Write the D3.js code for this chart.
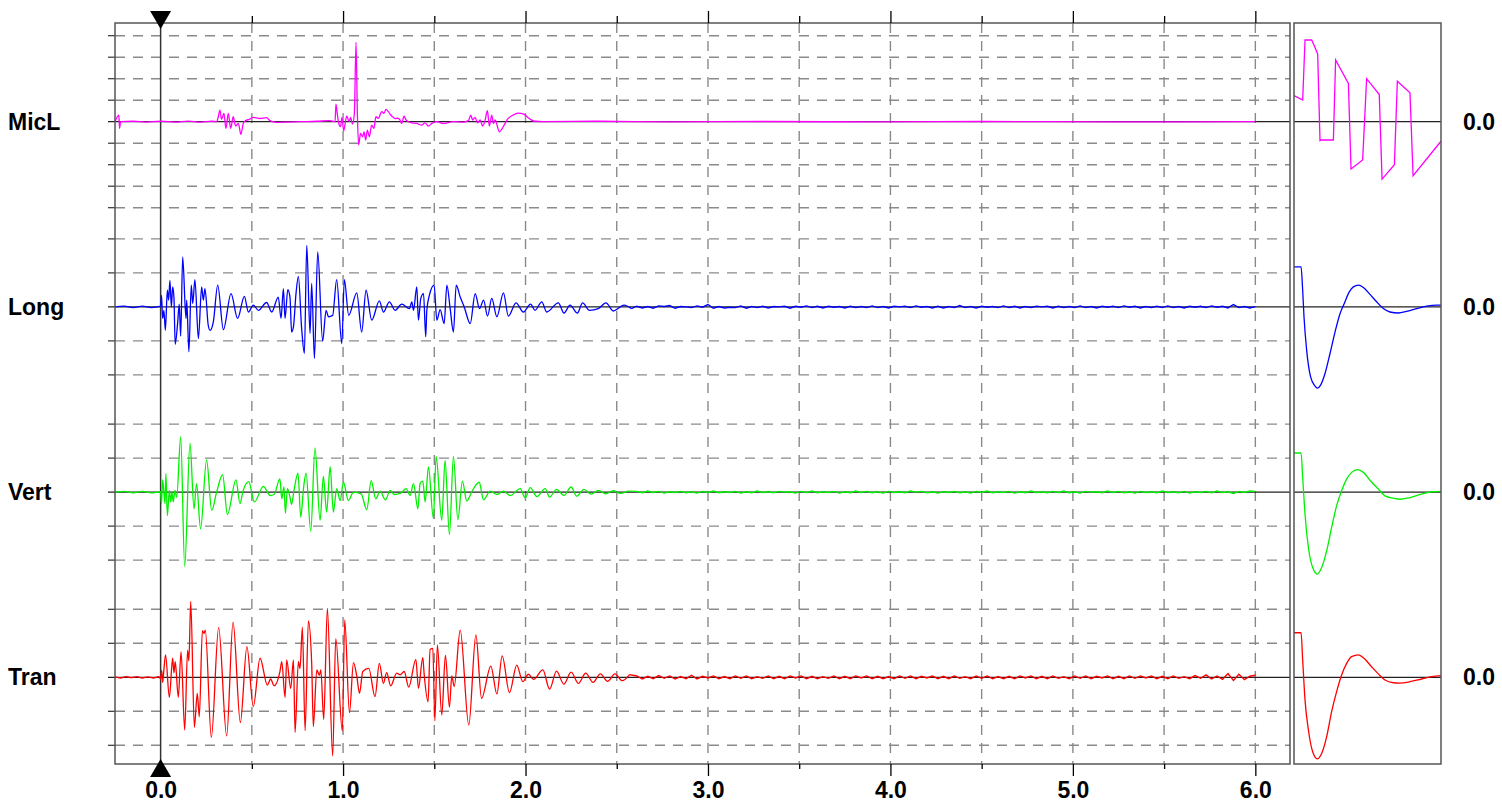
<!DOCTYPE html>
<html>
<head>
<meta charset="utf-8">
<script src="https://cdn.jsdelivr.net/npm/d3@7"></script>
<style>
  html, body { margin: 0; padding: 0; background: #fff; }
  svg { display: block; }
  text { font-family: "Liberation Sans", Arial, sans-serif; font-weight: bold; fill: #000; }
</style>
</head>
<body>
<div id="chart"></div>
<script>
// channel names, top to bottom
const channels = ["MicL", "Long", "Vert", "Tran"];
const channelColors = ["#ff00ff", "#0000ff", "#00f000", "#ff0000"];
// dashed grid levels per channel (in grid units)
const gridLevels = [[-4, -3, -2, -1, 1, 2, 3, 4], [-2, -1, 1, 2], [-2, -1, 1, 2], [-2, -1, 1, 2]];
const zeroLabels = ["0.0", "0.0", "0.0", "0.0"];

// time axis (s)
const xTicks = [0, 1, 2, 3, 4, 5, 6];
const xTickLabels = ["0.0", "1.0", "2.0", "3.0", "4.0", "5.0", "6.0"];
const xMinorTicks = [0.5, 1.5, 2.5, 3.5, 4.5, 5.5];

// traces: [time, value]
const micLTrace = [[-0.25,0],[-0.229,0.31],[-0.225,-0.31],[-0.219,0],[-0.15,0.02],[-0.08,-0.02],[0,0.02],[0.08,-0.02],[0.15,0.03],[0.22,-0.02],[0.28,0.02],
  [0.307,0],[0.316,0.23],[0.325,0.54],[0.334,0.11],[0.347,0.39],[0.358,-0.31],[0.371,0.39],[0.384,-0.31],[0.398,0.23],[0.411,-0.2],[0.426,-0.08],[0.44,-0.59],
  [0.453,-0.08],[0.466,0.05],[0.486,0.11],[0.508,0.2],[0.544,0.15],[0.581,0.19],[0.599,0.05],[0.636,-0.03],[0.69,-0.02],[0.764,0],[0.855,0.02],[0.928,0.05],
  [0.956,0],[0.961,0.82],[0.968,0.39],[0.976,-0.08],[0.986,-0.23],[0.994,0.2],[1.003,-0.42],[1.01,-0.16],[1.02,0.26],[1.034,0],[1.041,0.2],[1.052,-0.11],
  [1.062,0.39],[1.071,3.69],[1.078,0.54],[1.085,-1.09],[1.096,-0.54],[1.107,-0.7],[1.115,-0.47],[1.124,-0.85],[1.133,-0.39],[1.144,-0.7],[1.157,-0.16],
  [1.169,-0.31],[1.18,0.23],[1.193,0.16],[1.212,0.47],[1.224,0.39],[1.235,0.57],[1.248,0.47],[1.261,0.31],[1.272,0.23],[1.287,0.14],[1.299,0.16],[1.312,0.08],
  [1.321,-0.08],[1.334,0.26],[1.345,0.08],[1.358,0],[1.376,-0.05],[1.403,-0.08],[1.431,-0.16],[1.449,-0.05],[1.467,-0.2],[1.486,-0.08],[1.513,0],[1.55,-0.08],
  [1.604,0],[1.659,-0.02],[1.687,0.05],[1.7,0.31],[1.71,0.08],[1.723,0.2],[1.738,-0.05],[1.751,0.08],[1.765,-0.2],[1.778,0.05],[1.791,0.51],[1.802,-0.2],
  [1.815,0.31],[1.824,-0.08],[1.833,0.08],[1.857,-0.47],[1.88,-0.2],[1.9,0.1],[1.93,0.3],[1.96,0.4],[1.99,0.35],[2.02,0.15],[2.05,0.02],[2.1,0],[2.4,0.02],
  [2.8,-0.01],[3.3,0.01],[3.9,-0.01],[4.5,0.01],[5.2,-0.01],[6.0,0]];

const longTrace = [[-0.25,0],[-0.2,0.02],[-0.15,-0.02],[-0.1,0.02],[-0.05,-0.02],[0,0.02],
  [0.005,0.34],[0.011,-0.34],[0.018,-0.1],[0.026,-0.69],[0.037,0.49],[0.044,0.2],[0.051,0.78],[0.059,0],[0.066,0.59],[0.073,0.29],[0.08,-1.1],[0.093,-0.49],
  [0.102,0.08],[0.11,-0.86],[0.121,1.47],[0.139,-0.34],[0.143,0.2],[0.155,-1.32],[0.168,0.64],[0.176,0.1],[0.188,0.8],[0.207,-0.93],[0.225,0.59],[0.234,0.2],
  [0.243,0.54],[0.261,-0.54],[0.271,-0.69],[0.289,-0.44],[0.313,0.64],[0.344,-0.67],[0.386,0.39],[0.422,-0.34],[0.459,0.31],[0.481,-0.15],[0.508,0.05],
  [0.536,-0.1],[0.581,0.13],[0.609,-0.15],[0.645,0.29],[0.66,-0.34],[0.673,0.54],[0.682,-0.34],[0.697,0.51],[0.709,0.29],[0.718,-0.74],[0.728,-0.59],
  [0.742,0.39],[0.755,0.9],[0.773,-0.64],[0.788,-1.37],[0.801,1.81],[0.819,-0.78],[0.828,0.69],[0.843,-1.52],[0.861,1.62],[0.888,-1],[0.907,-0.1],
  [0.92,-0.29],[0.943,-0.25],[0.965,0.8],[0.993,-1.08],[1.007,0.8],[1.031,-0.25],[1.075,0.41],[1.102,-0.74],[1.126,0.49],[1.157,-0.39],[1.199,0.18],
  [1.221,-0.15],[1.254,0.15],[1.285,-0.1],[1.322,0.08],[1.364,-0.05],[1.377,0.15],[1.386,-0.1],[1.404,0.59],[1.413,-0.39],[1.426,0.25],[1.441,0.39],
  [1.453,-0.88],[1.459,-0.1],[1.473,0.34],[1.499,0.64],[1.514,-0.39],[1.532,-0.08],[1.554,-0.49],[1.569,0.64],[1.587,-0.05],[1.605,-0.74],[1.62,0.64],
  [1.642,0.29],[1.664,0],[1.697,-0.49],[1.724,0.39],[1.748,-0.05],[1.77,0.2],[1.792,-0.27],[1.815,0.25],[1.843,-0.29],[1.879,0.41],[1.906,-0.27],[1.948,0.12],
  [1.988,-0.15],[2.028,0.08],[2.052,-0.1],[2.089,0.15],[2.116,-0.15],[2.18,0.12],[2.211,-0.18],[2.244,0.05],[2.284,-0.18],[2.313,0.12],[2.35,-0.1],
  [2.399,-0.05],[2.441,0.12],[2.481,-0.12],[2.54,0.05],[2.58,-0.05]];

const vertTrace = [[-0.25,0],[-0.2,0.02],[-0.15,-0.02],[-0.1,0.02],[-0.05,-0.02],[0,0.01],
  [0.005,-0.34],[0.011,0.36],[0.018,0],[0.024,-0.34],[0.029,0.54],[0.037,-0.69],[0.048,0.05],[0.055,-0.29],[0.062,0],[0.069,-0.29],[0.079,0.05],[0.088,-0.15],
  [0.11,1.62],[0.132,-2.19],[0.161,1.44],[0.183,-0.49],[0.197,0.25],[0.219,-1.08],[0.252,0.95],[0.28,-0.54],[0.307,0],[0.34,0.51],[0.366,-0.66],[0.413,0.36],
  [0.435,-0.34],[0.45,0],[0.483,0.31],[0.514,-0.29],[0.563,0.17],[0.6,-0.1],[0.622,-0.07],[0.654,0.39],[0.664,-0.2],[0.676,0.15],[0.684,-0.62],[0.695,0.1],
  [0.709,-0.15],[0.718,-0.36],[0.731,0.05],[0.753,0.56],[0.768,-0.74],[0.784,0.15],[0.797,0.56],[0.823,-1.15],[0.846,1.3],[0.874,-0.83],[0.892,0.46],
  [0.91,-0.59],[0.929,0.75],[0.947,-0.59],[0.965,0.1],[0.984,-0.25],[1.002,0.29],[1.029,-0.25],[1.057,0],[1.099,-0.05],[1.13,-0.52],[1.154,0.34],
  [1.179,-0.2],[1.203,0.03],[1.232,-0.23],[1.258,0.05],[1.28,-0.07],[1.316,-0.03],[1.346,0.1],[1.367,-0.1],[1.386,0.25],[1.41,-0.49],[1.422,0.25],
  [1.437,0.32],[1.45,-0.29],[1.468,0.74],[1.495,-0.78],[1.51,1.05],[1.541,-0.83],[1.559,0.93],[1.583,-1.25],[1.605,1.05],[1.629,-0.81],[1.654,0.32],
  [1.678,-0.26],[1.707,0.03],[1.746,0.29],[1.77,-0.23],[1.806,0.03],[1.843,-0.07],[1.879,0.03],[1.916,-0.1],[1.971,0.1],[1.998,-0.17],[2.026,0.13],
  [2.062,-0.13],[2.108,0.1],[2.132,-0.15],[2.17,0.08],[2.21,-0.1],[2.25,0.15],[2.28,-0.12],[2.32,0.08],[2.36,-0.06],[2.4,0.05],[2.44,-0.05],[2.48,0.04],
  [2.52,-0.04],[2.56,0.03]];

const tranTrace = [[-0.25,0.01],[-0.22,-0.02],[-0.19,0.02],[-0.16,-0.01],[-0.13,0.02],[-0.1,-0.02],[-0.07,0.01],[-0.04,-0.02],[-0.01,0.02],
  [0,-0.05],[0.006,0.2],[0.011,-0.15],[0.016,0.1],[0.027,0.66],[0.048,-0.59],[0.066,0.56],[0.073,0.13],[0.08,0.46],[0.097,-0.59],[0.112,0.75],[0.132,-1.55],
  [0.148,0.8],[0.155,0.48],[0.165,2.23],[0.185,-1.47],[0.201,-0.47],[0.212,-1.16],[0.229,1.37],[0.238,1.29],[0.245,1.39],[0.278,-1.77],[0.318,1.46],
  [0.362,-1.72],[0.397,1.62],[0.437,-1.33],[0.473,0.9],[0.508,-0.86],[0.545,0.56],[0.585,-0.23],[0.603,-0.05],[0.622,-0.25],[0.654,0.17],[0.664,0.46],
  [0.682,-0.59],[0.691,0.51],[0.713,-0.33],[0.728,0.51],[0.737,-1.62],[0.755,0.46],[0.764,0.26],[0.777,1.47],[0.792,-1.57],[0.81,1.66],[0.828,0.41],
  [0.837,-1.45],[0.856,0.22],[0.87,0.06],[0.878,0.22],[0.894,-1.24],[0.914,2.03],[0.943,-2.31],[0.96,1.14],[0.996,-1.58],[1.009,1.69],[1.035,-1.04],
  [1.057,0.43],[1.075,0.04],[1.09,-0.47],[1.108,0.17],[1.141,0.26],[1.175,-0.57],[1.199,0.41],[1.221,-0.18],[1.239,0.14],[1.261,-0.25],[1.294,0.12],
  [1.313,0.07],[1.335,0.17],[1.36,-0.29],[1.399,0.53],[1.413,-0.32],[1.437,0.58],[1.444,0.12],[1.466,-0.72],[1.477,0.82],[1.492,0.85],[1.503,-1.28],
  [1.517,0.95],[1.541,-1.11],[1.561,0.65],[1.583,-0.88],[1.596,0.04],[1.609,-0.27],[1.642,1.39],[1.689,-1.4],[1.728,1.25],[1.759,-0.62],[1.81,0.33],
  [1.843,-0.49],[1.872,0.63],[1.912,-0.45],[1.952,0.36],[1.985,-0.13],[2.016,0.09],[2.044,-0.06],[2.095,0.22],[2.132,-0.35],[2.17,0.18],[2.21,-0.2],
  [2.25,0.15],[2.29,-0.18],[2.33,0.12],[2.37,-0.15],[2.41,0.1],[2.45,-0.12],[2.49,0.1],[2.53,-0.1],[2.57,0.08]];

// low-level noise after the event, one value every tailStep s from tailStart
const tailStart = 2.61;
const tailStep = 0.03;
const longTail = [0.02,-0.03,0.01,-0.04,0.03,0.01,0.04,-0.04,0.01,0.00,
  -0.02,0.03,-0.01,0.07,-0.04,0.01,-0.03,-0.01,-0.02,0.03,
  -0.04,0.01,-0.02,0.02,-0.03,0.01,0.00,0.02,-0.04,0.02,
  -0.01,0.03,-0.02,0.02,-0.03,0.02,-0.01,0.01,-0.03,0.02,
  -0.02,0.01,-0.02,0.03,-0.02,0.01,-0.03,0.02,0.00,0.02,
  -0.02,0.03,-0.01,0.01,-0.03,0.02,-0.03,0.01,-0.02,0.04,
  -0.02,0.01,-0.03,0.02,-0.01,0.01,-0.02,0.03,-0.02,0.02,
  -0.03,0.01,-0.02,0.02,0.00,0.02,-0.03,0.02,-0.02,0.01,
  -0.02,0.03,-0.02,0.01,-0.03,0.02,-0.01,0.02,-0.02,0.03,
  -0.01,0.02,-0.03,0.01,-0.02,0.02,-0.02,0.03,-0.02,0.01,
  -0.03,0.02,-0.01,0.02,-0.02,0.03,-0.01,0.02,-0.03,0.07,
  -0.02,0.01,-0.03,0.01];
const vertTail = [0.02,-0.02,0.03,-0.01,0.02,-0.03,0.01,-0.01,0.02,-0.02,
  0.01,-0.03,0.02,-0.01,0.03,-0.02,0.01,-0.01,0.02,-0.03,
  0.01,-0.02,0.03,-0.01,0.01,-0.02,0.02,0.00,0.01,-0.03,
  0.02,-0.01,0.03,-0.02,0.01,-0.01,0.02,-0.03,0.01,-0.02,
  0.03,-0.01,0.02,-0.02,0.01,-0.03,0.02,-0.01,0.01,-0.02,
  0.03,0.00,0.02,-0.02,0.01,-0.03,0.01,-0.01,0.02,-0.02,
  0.01,-0.03,0.02,-0.01,0.03,-0.02,0.01,-0.01,0.02,-0.03,
  0.01,-0.02,0.03,-0.01,0.01,-0.02,0.02,-0.01,0.03,-0.02,
  0.01,-0.03,0.02,0.00,0.01,-0.02,0.03,-0.01,0.02,-0.02,
  0.01,-0.03,0.02,-0.01,0.01,-0.02,0.03,-0.01,0.01,-0.02,
  0.02,-0.03,0.01,-0.01,0.02,-0.02,0.03,-0.01,0.01,-0.04,
  0.02,-0.01,0.03,0.02];
const tranTail = [0.04,-0.05,0.03,-0.04,0.05,-0.03,0.04,-0.05,0.02,-0.04,
  0.06,-0.05,0.03,-0.02,0.04,-0.04,0.02,-0.04,0.04,-0.03,
  0.04,-0.04,0.02,-0.03,0.04,-0.04,0.03,-0.04,0.04,-0.02,
  0.04,-0.04,0.03,-0.04,0.02,-0.03,0.04,-0.04,0.03,-0.04,
  0.04,-0.02,0.04,-0.04,0.03,-0.04,0.02,-0.04,0.04,-0.03,
  0.04,-0.04,0.03,-0.02,0.04,-0.04,0.03,-0.04,0.04,-0.03,
  0.02,-0.04,0.04,-0.03,0.04,-0.04,0.02,-0.04,0.03,-0.04,
  0.04,-0.02,0.04,-0.04,0.03,-0.04,0.04,-0.03,0.02,-0.04,
  0.04,-0.03,0.04,-0.04,0.03,-0.02,0.04,-0.04,0.03,-0.04,
  0.04,-0.03,0.04,-0.02,0.04,-0.04,0.03,-0.04,0.04,-0.03,
  0.02,-0.04,0.05,-0.03,0.07,-0.05,0.04,-0.06,0.11,-0.09,
  0.09,-0.07,0.03,0.06];

// right-hand panel: response pulse, [fraction of window, value]
const micLPulse = [[0,1.21],[0.059,1.01],[0.075,3.8],[0.12,3.8],[0.138,3.53],[0.161,3.15],[0.177,-0.88],[0.184,-0.85],[0.268,-0.85],[0.283,2.87],
  [0.37,1.78],[0.388,-2.2],[0.467,-1.78],[0.494,2.0],[0.58,1.26],[0.599,-2.67],[0.683,-2.0],[0.703,1.88],[0.789,1.35],[0.81,-2.51],[1,-0.91]];
const longPulse = [[0,1.18],[0.048,1.18],[0.059,0.49],[0.068,-0.29],[0.086,-1.27],[0.113,-2.06],[0.143,-2.33],[0.159,-2.39],[0.181,-2.3],[0.211,-1.96],
  [0.245,-1.37],[0.279,-0.74],[0.313,-0.2],[0.342,0.1],[0.376,0.44],[0.404,0.59],[0.438,0.64],[0.472,0.57],[0.517,0.37],[0.562,0.15],[0.608,-0.05],
  [0.653,-0.15],[0.71,-0.18],[0.766,-0.13],[0.834,-0.05],[0.902,0.02],[0.971,0.05],[1,0.05]];
const vertPulse = [[0,1.15],[0.048,1.15],[0.059,0.43],[0.075,-0.65],[0.098,-1.63],[0.127,-2.22],[0.159,-2.41],[0.188,-2.22],[0.222,-1.73],[0.256,-1.04],
  [0.29,-0.4],[0.324,0.04],[0.358,0.38],[0.392,0.58],[0.433,0.66],[0.472,0.58],[0.517,0.35],[0.574,0.09],[0.619,-0.11],[0.676,-0.18],[0.721,-0.21],
  [0.789,-0.16],[0.868,-0.06],[0.937,0.01],[1,0.02]];
const tranPulse = [[0,1.31],[0.048,1.31],[0.059,0.51],[0.075,-0.67],[0.098,-1.55],[0.127,-2.19],[0.159,-2.4],[0.188,-2.24],[0.222,-1.75],[0.256,-1.01],
  [0.29,-0.42],[0.324,0.07],[0.358,0.41],[0.392,0.61],[0.438,0.66],[0.476,0.56],[0.528,0.31],[0.574,0.1],[0.619,-0.08],[0.676,-0.16],[0.721,-0.17],
  [0.789,-0.13],[0.868,-0.05],[0.937,0.02],[1,0.05]];

const traces = [micLTrace, longTrace, vertTrace, tranTrace];
const tails = [null, longTail, vertTail, tranTail];
const pulses = [micLPulse, longPulse, vertPulse, tranPulse];

// ---- layout ----
const W = 1502, H = 809;
const main = {left: 115, right: 1290, top: 23, bottom: 764};
const side = {left: 1294, right: 1441};
const unitPx = [21.5, 34, 34, 34];

const svg = d3.select("#chart").append("svg").attr("width", W).attr("height", H);

const x = d3.scaleLinear().domain([-0.25, 6.19]).range([main.left, main.right]);
const u = d3.scaleLinear().domain([0, 1]).range([side.left, side.right]);
const row = d3.scaleLinear().domain([0, channels.length - 1]).range([121.7, 677.3]);
const yScales = channels.map((c, i) =>
  d3.scaleLinear().domain([-1, 1]).range([row(i) + unitPx[i], row(i) - unitPx[i]]));

// vertical dashed grid
const gridX = d3.range(0, 6.01, 0.5).filter(d => d > 0);
svg.append("g").selectAll("line").data(gridX).join("line")
  .attr("x1", d => x(d)).attr("x2", d => x(d))
  .attr("y1", main.top).attr("y2", main.bottom)
  .attr("stroke", "#8a8a8a").attr("stroke-width", 1.4).attr("stroke-dasharray", "10,8");

// horizontal dashed grid + left ticks
channels.forEach((c, i) => {
  const g = svg.append("g");
  g.selectAll("line.grid").data(gridLevels[i]).join("line").attr("class", "grid")
    .attr("x1", main.left).attr("x2", main.right)
    .attr("y1", d => yScales[i](d)).attr("y2", d => yScales[i](d))
    .attr("stroke", "#8a8a8a").attr("stroke-width", 1.4).attr("stroke-dasharray", "10,8");
  g.selectAll("line.tick").data(gridLevels[i]).join("line").attr("class", "tick")
    .attr("x1", main.left - 7).attr("x2", main.left)
    .attr("y1", d => yScales[i](d)).attr("y2", d => yScales[i](d))
    .attr("stroke", "#333").attr("stroke-width", 1.2);
});

// zero lines
channels.forEach((c, i) => {
  const y0 = yScales[i](0);
  svg.append("line").attr("x1", main.left - 7).attr("x2", main.right).attr("y1", y0).attr("y2", y0)
    .attr("stroke", "#222").attr("stroke-width", 1.3);
  svg.append("line").attr("x1", side.left).attr("x2", side.right).attr("y1", y0).attr("y2", y0)
    .attr("stroke", "#222").attr("stroke-width", 1.3);
});

// cursor at t = 0
svg.append("line").attr("x1", x(0)).attr("x2", x(0)).attr("y1", main.top).attr("y2", main.bottom)
  .attr("stroke", "#333").attr("stroke-width", 1.5);

// traces: event part smoothed, noise tail drawn sample to sample
channels.forEach((c, i) => {
  const pts = traces[i];
  svg.append("path").datum(pts)
    .attr("d", d3.line().x(d => x(d[0])).y(d => yScales[i](d[1])).curve(d3.curveMonotoneX))
    .attr("fill", "none").attr("stroke", channelColors[i]).attr("stroke-width", 1.3);
  if (tails[i]) {
    const tail = [pts[pts.length - 1]].concat(tails[i].map((v, k) => [tailStart + k * tailStep, v]));
    svg.append("path").datum(tail)
      .attr("d", d3.line().x(d => x(d[0])).y(d => yScales[i](d[1])))
      .attr("fill", "none").attr("stroke", channelColors[i]).attr("stroke-width", 1.4);
  }
});

// side panel pulses
channels.forEach((c, i) => {
  const line = d3.line().x(d => u(d[0])).y(d => yScales[i](d[1]))
    .curve(i === 0 ? d3.curveLinear : d3.curveMonotoneX);
  svg.append("path").datum(pulses[i]).attr("d", line)
    .attr("fill", "none").attr("stroke", channelColors[i]).attr("stroke-width", 1.3);
});

// frames
svg.append("rect").attr("x", main.left).attr("y", main.top)
  .attr("width", main.right - main.left).attr("height", main.bottom - main.top)
  .attr("fill", "none").attr("stroke", "#555").attr("stroke-width", 1.5);
svg.append("rect").attr("x", side.left).attr("y", main.top)
  .attr("width", side.right - side.left).attr("height", main.bottom - main.top)
  .attr("fill", "none").attr("stroke", "#555").attr("stroke-width", 1.5);

// time axes
const axisStyle = g => {
  g.select(".domain").remove();
  g.selectAll(".tick line").attr("stroke", "#000").attr("stroke-width", 1.3);
};
svg.append("g").attr("transform", `translate(0,${main.bottom})`)
  .call(d3.axisBottom(x).tickValues(xTicks).tickSize(12).tickPadding(6)
    .tickFormat((d, k) => xTickLabels[k]))
  .call(axisStyle)
  .call(g => g.selectAll("text").attr("font-size", 23).attr("font-family", null));
svg.append("g").attr("transform", `translate(0,${main.bottom})`)
  .call(d3.axisBottom(x).tickValues(xMinorTicks).tickSize(5).tickFormat(""))
  .call(axisStyle);
svg.append("g").attr("transform", `translate(0,${main.top})`)
  .call(d3.axisTop(x).tickValues(xTicks.filter(d => d > 0)).tickSize(12).tickFormat(""))
  .call(axisStyle);
svg.append("g").attr("transform", `translate(0,${main.top})`)
  .call(d3.axisTop(x).tickValues(xMinorTicks).tickSize(7).tickFormat(""))
  .call(axisStyle);

// cursor markers
const tri = d3.symbol().type(d3.symbolTriangle).size(190);
svg.append("path").attr("d", tri).attr("fill", "#000")
  .attr("transform", `translate(${x(0)},${main.top - 6}) rotate(180)`);
svg.append("path").attr("d", tri).attr("fill", "#000")
  .attr("transform", `translate(${x(0)},${main.bottom + 7})`);

// channel labels
svg.append("g").selectAll("text").data(channels).join("text")
  .attr("x", 8).attr("y", (d, i) => row(i) + 8)
  .attr("font-size", 23).text(d => d);
svg.append("g").selectAll("text").data(zeroLabels).join("text")
  .attr("x", 1463).attr("y", (d, i) => row(i) + 8)
  .attr("font-size", 23).text(d => d);
</script>
</body>
</html>
